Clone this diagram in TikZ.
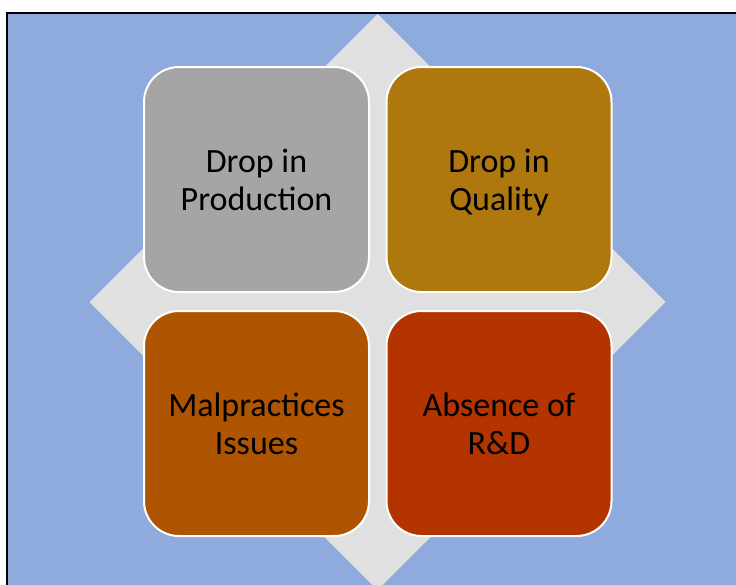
\documentclass[tikz,border=0pt]{standalone}
\usepackage{fontspec}
\setmainfont{Carlito}
\definecolor{bgblue}{RGB}{143,170,220}
\definecolor{diamondgray}{RGB}{224,224,224}
\definecolor{boxgray}{RGB}{165,165,165}
\definecolor{boxgold}{RGB}{174,120,14}
\definecolor{boxorange}{RGB}{175,84,0}
\definecolor{boxred}{RGB}{180,52,0}
\tikzset{
	box/.style = {draw = white, line width = 2pt, rounded corners = 35pt, minimum width = 225pt, minimum height = 225pt, align = center, font = \fontsize{34}{38}\selectfont, text = black, inner sep = 0pt, text depth = 0pt}
}
\begin{document}
\begin{tikzpicture}[x = 1pt, y = -1pt]
		\useasboundingbox (0,0) rectangle (736,584);
		\clip (0,0) rectangle (736,584);
		%background panel
		\fill [bgblue] (7,13) rectangle (745,595);
		\draw [black, line width = 2pt] (7,600) -- (7,13) -- (745,13);
		
		%diamond behind the boxes
		\fill [diamondgray] (377.5,14) -- (665.5,302) -- (377.5,590) -- (89.5,302) -- cycle;
		
		%four boxes
		\node [box, fill = boxgray] (prod) at (256.5,179.5) {Drop in\\Production};
		\node [box, fill = boxgold] (qual) at (499,179.5) {Drop in\\Quality};
		\node [box, fill = boxorange] (mal) at (256.5,423.5) {Malpractices\\Issues};
		\node [box, fill = boxred] (rnd) at (499,423.5) {Absence of\\R\&D};
	\end{tikzpicture}
\end{document}
